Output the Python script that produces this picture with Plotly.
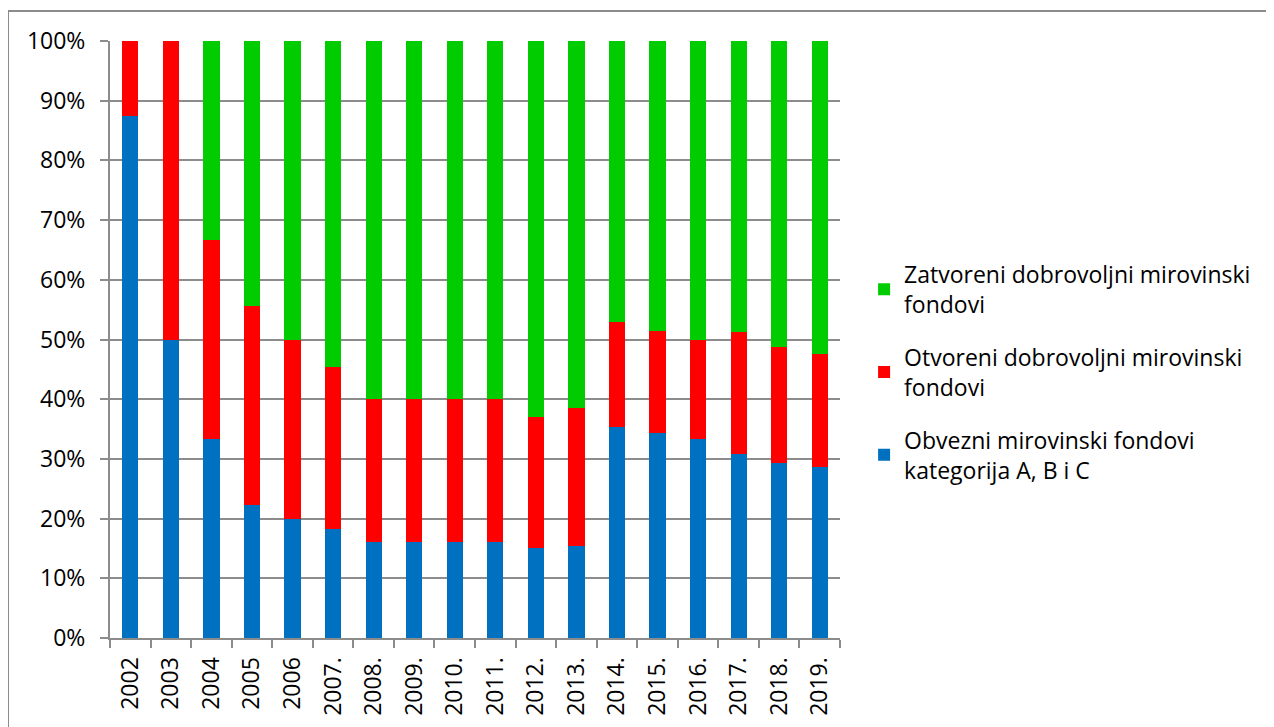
import plotly.graph_objects as go

years = ["2002", "2003", "2004", "2005", "2006", "2007.", "2008.", "2009.", "2010.",
         "2011.", "2012.", "2013.", "2014.", "2015.", "2016.", "2017.", "2018.", "2019."]

obvezni = [87.5, 50.0, 33.3, 22.2, 20.0, 18.2, 16.0, 16.0, 16.0, 16.0, 15.0, 15.4,
           35.3, 34.3, 33.3, 30.8, 29.3, 28.6]
otvoreni = [12.5, 50.0, 33.4, 33.4, 30.0, 27.2, 24.0, 24.0, 24.0, 24.0, 22.0, 23.1,
            17.7, 17.2, 16.7, 20.5, 19.4, 19.0]
zatvoreni = [0.0, 0.0, 33.3, 44.4, 50.0, 54.6, 60.0, 60.0, 60.0, 60.0, 63.0, 61.5,
             47.0, 48.5, 50.0, 48.7, 51.3, 52.4]

names = ["Obvezni mirovinski fondovi<br>kategorija A, B i C",
         "Otvoreni dobrovoljni mirovinski<br>fondovi",
         "Zatvoreni dobrovoljni mirovinski<br>fondovi"]
colors = ["#0070C0", "#FF0000", "#00CC00"]
ranks = [3, 2, 1]

ytick_vals = [0, 10, 20, 30, 40, 50, 60, 70, 80, 90, 100]
ytick_text = [f"{v}%" for v in ytick_vals]

fig = go.Figure()
for i, (vals, name, col) in enumerate(zip([obvezni, otvoreni, zatvoreni], names, colors)):
    fig.add_trace(go.Bar(x=years, y=vals, name=name, marker=dict(color=col, line=dict(width=0)),
                         legendgroup=f"g{i}", legendrank=ranks[i]))

FONT = "Open Sans"
GRID = "#8C8C8C"

# page body has an 8px margin; figure is sized/offset to compensate
L, T, PW, PH = 102, 33, 730, 597
W, H = 1266, 719

fig.update_layout(
    width=W, height=H,
    barmode="stack", bargap=0.6,
    paper_bgcolor="white", plot_bgcolor="white",
    margin=dict(l=L, r=W - L - PW, t=T, b=H - T - PH, pad=0),
    font=dict(family=FONT, size=23, color="black"),
    showlegend=True,
    legend=dict(x=1.033, xanchor="left", y=0.445, yanchor="middle",
                traceorder="grouped", tracegroupgap=20,
                font=dict(family=FONT, size=23, color="black"),
                bgcolor="rgba(0,0,0,0)"),
    xaxis=dict(type="category", tickangle=-90, showgrid=False, showline=True,
               linecolor=GRID, linewidth=2, ticks="outside", ticklen=8, tickwidth=2,
               tickcolor=GRID, tickson="boundaries", ticklabelstandoff=8,
               tickfont=dict(family=FONT, size=23, color="black")),
    yaxis=dict(range=[0, 100], tickvals=ytick_vals, ticktext=ytick_text,
               showgrid=True, gridcolor=GRID, gridwidth=2, showline=True,
               linecolor=GRID, linewidth=2, ticks="outside", ticklen=8, tickwidth=2,
               tickcolor=GRID, zeroline=False, ticklabelstandoff=10,
               tickfont=dict(family=FONT, size=23, color="black")),
    shapes=[dict(type="rect", xref="paper", yref="paper",
                 x0=(8 - 110) / PW, x1=(1290 - 110) / PW,
                 y0=(638 - 740) / PH, y1=(638 - 11) / PH,
                 line=dict(color=GRID, width=2), fillcolor="rgba(0,0,0,0)", layer="below")],
)

fig.write_html("out.html")
